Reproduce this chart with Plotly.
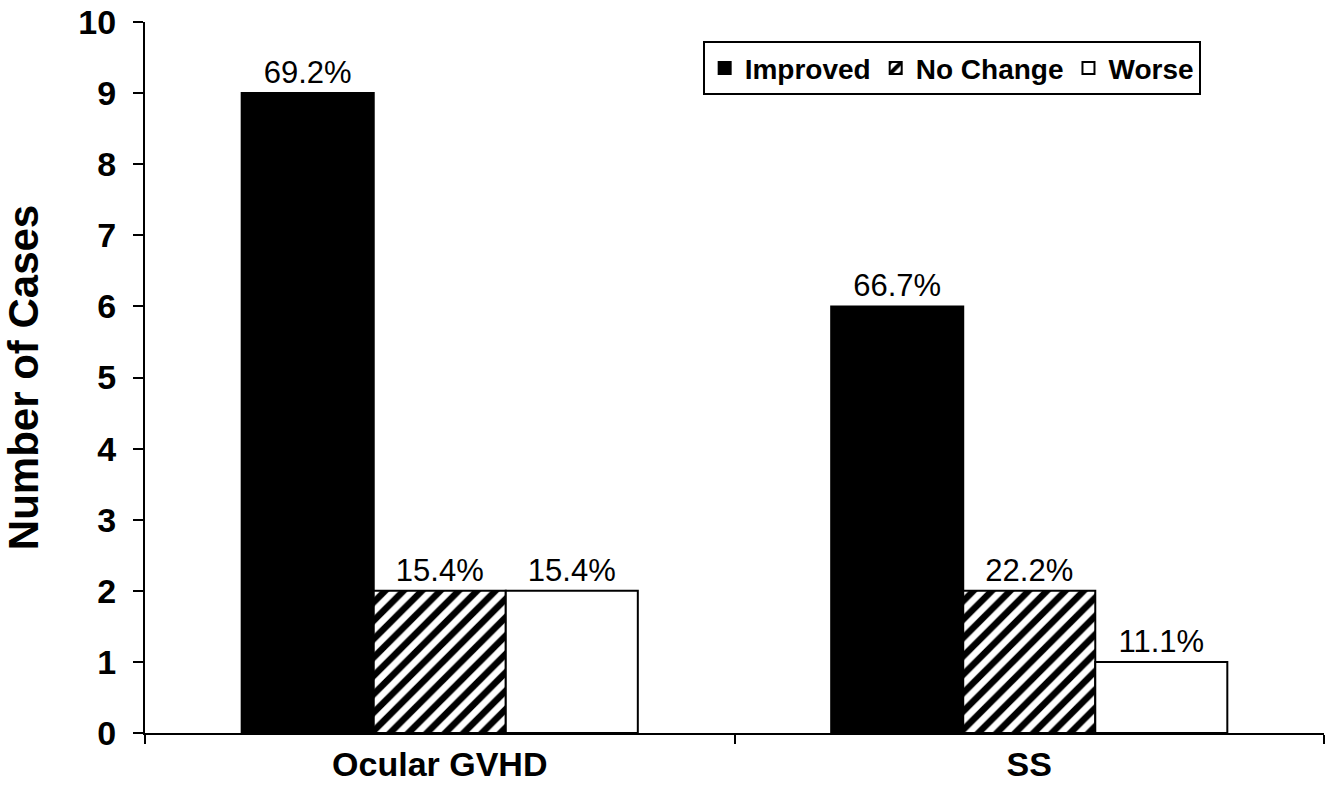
import plotly.graph_objects as go

categories = ["Ocular GVHD", "SS"]
improved = [9, 6]
no_change = [2, 2]
worse = [2, 1]
improved_pct = ["69.2%", "66.7%"]
no_change_pct = ["15.4%", "22.2%"]
worse_pct = ["15.4%", "11.1%"]
y_ticks = list(range(0, 11))

FONT = "Liberation Sans, Arial, sans-serif"
label_font = dict(family=FONT, size=31, color="black")

fig = go.Figure()
fig.add_trace(go.Bar(
    name="Improved", x=categories, y=improved, text=improved_pct,
    marker=dict(color="black", line=dict(color="black", width=2)),
))
fig.add_trace(go.Bar(
    name="No Change", x=categories, y=no_change, text=no_change_pct,
    marker=dict(color="white", line=dict(color="black", width=2),
                pattern=dict(shape="/", fgcolor="#000000", bgcolor="white",
                             fgopacity=1, size=13, solidity=0.5)),
))
fig.add_trace(go.Bar(
    name="Worse", x=categories, y=worse, text=worse_pct,
    marker=dict(color="white", line=dict(color="black", width=2)),
))
fig.update_traces(textposition="outside", textfont=label_font,
                  cliponaxis=False, outsidetextfont=label_font)

fig.update_layout(
    width=1336, height=797,
    margin=dict(l=145, r=12, t=22, b=64, autoexpand=False),
    paper_bgcolor="white", plot_bgcolor="white",
    barmode="group", bargap=0.328, bargroupgap=0,
    showlegend=True,
    legend=dict(
        orientation="h", x=0.473, y=0.973, xanchor="left", yanchor="top",
        bordercolor="black", borderwidth=2, bgcolor="white",
        font=dict(family=FONT, size=28, color="black", weight="bold"),
        itemwidth=30, tracegroupgap=0,
    ),
    xaxis=dict(
        type="category", showline=True, linecolor="black", linewidth=2,
        ticks="outside", tickson="boundaries", ticklen=9, tickwidth=2,
        tickcolor="black", showgrid=False, automargin=False,
        tickfont=dict(family=FONT, size=34, color="black", weight="bold"),
    ),
    yaxis=dict(
        range=[0, 10], tickvals=y_ticks, showline=True, linecolor="black",
        linewidth=2, ticks="outside", ticklen=10, tickwidth=2,
        tickcolor="black", showgrid=False, zeroline=False, automargin=False,
        ticklabelstandoff=10, ticklabeloverflow="allow",
        tickfont=dict(family=FONT, size=34, color="black", weight="bold"),
        title=dict(text="Number of Cases", standoff=37,
                   font=dict(family=FONT, size=42, color="black", weight="bold")),
    ),
)

fig.write_html(
    "out.html",
    config={"displayModeBar": False},
    post_script="document.body.style.margin='0';document.body.style.overflow='hidden';",
)
